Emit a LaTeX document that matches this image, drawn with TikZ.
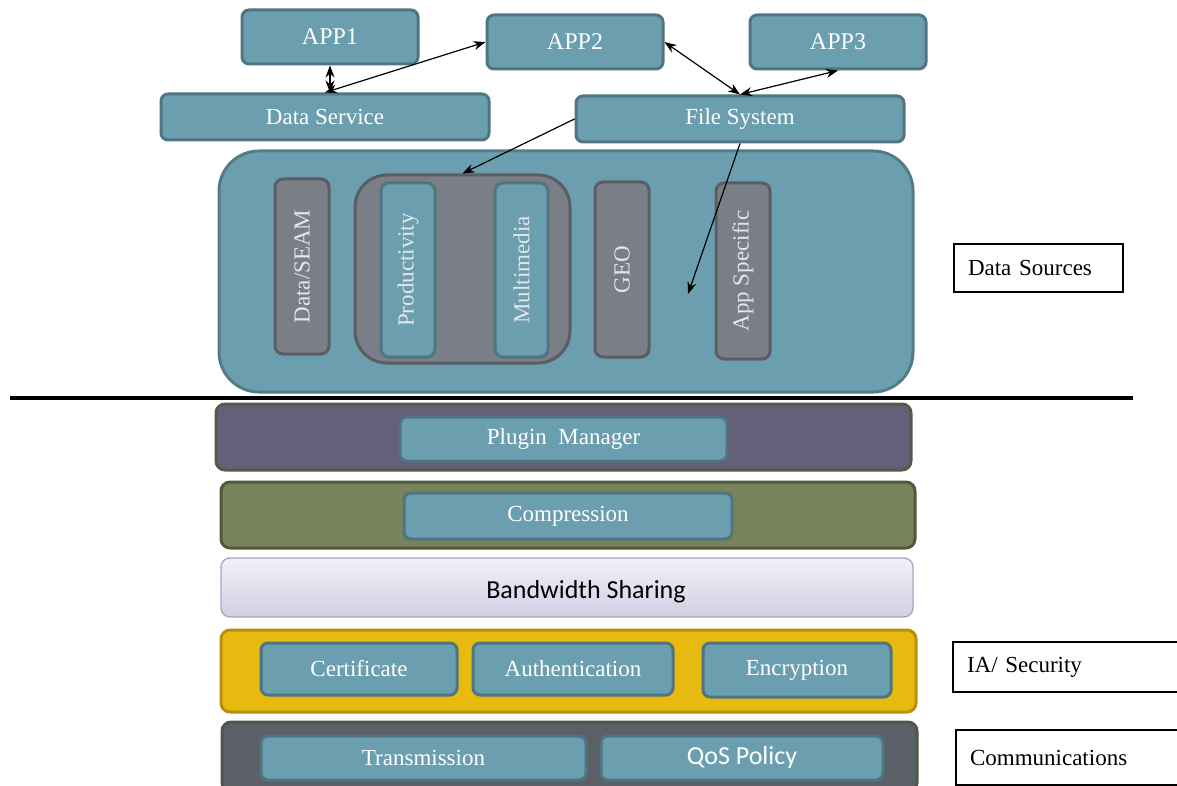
\documentclass[tikz,border=0pt]{standalone}
\usepackage{fontspec}
\setmainfont{Liberation Serif}
\newfontfamily\calfont{Carlito}
\usetikzlibrary{arrows.meta}
\definecolor{tealF}{HTML}{6B9FAF}
\definecolor{tealB}{HTML}{4E7581}
\definecolor{grayF}{HTML}{7A7E87}
\definecolor{grayB}{HTML}{5A5E64}
\definecolor{bigB}{HTML}{557B87}
\definecolor{purpleF}{HTML}{656079}
\definecolor{purpleB}{HTML}{535C47}
\definecolor{oliveF}{HTML}{78835B}
\definecolor{oliveB}{HTML}{4E5A3C}
\definecolor{bwTop}{HTML}{F2F0F9}
\definecolor{bwBot}{HTML}{D4CEE4}
\definecolor{bwB}{HTML}{A9A4BE}
\definecolor{goldF}{HTML}{E8B90F}
\definecolor{goldB}{HTML}{B8900A}
\definecolor{commF}{HTML}{5B6066}
\definecolor{commB}{HTML}{4E5848}
\definecolor{vtext}{HTML}{E4E6EA}
\tikzset{
  tealbox/.style={draw=tealB, fill=tealF, line width=3pt, rounded corners=7pt,
    text=white, font=\fontsize{23}{25}\selectfont, inner sep=0pt},
  vgray/.style={draw=grayB, fill=grayF, line width=3pt, rounded corners=8pt,
    text=vtext, font=\fontsize{23}{25}\selectfont, inner sep=0pt, rotate=90},
  vteal/.style={vgray, draw=tealB, fill=tealF},
  layer/.style={line width=3pt, rounded corners=9pt, inner sep=0pt},
  label/.style={draw=black, line width=1.3pt, fill=white, inner sep=0pt, inner xsep=14pt,
    align=left, font=\fontsize{23}{25}\selectfont},
  link/.style={line width=1.2pt, {Stealth[length=12pt,width=9pt]}-{Stealth[length=12pt,width=9pt]}},
  onelink/.style={line width=1.2pt, -{Stealth[length=12pt,width=9pt]}}
}
\begin{document}
\begin{tikzpicture}[x=1pt,y=-1pt]
\useasboundingbox[fill=white] (0,0) rectangle (1177,786);

% top application boxes
\node[tealbox, minimum width=176, minimum height=54, font=\fontsize{24}{26}\selectfont] (app1) at (330,37) {APP1};
\node[tealbox, minimum width=176, minimum height=54, font=\fontsize{24}{26}\selectfont] (app2) at (575,42) {APP2};
\node[tealbox, minimum width=176, minimum height=54, font=\fontsize{24}{26}\selectfont] (app3) at (838,42) {APP3};
\node[tealbox, minimum width=328, minimum height=46] (ds) at (325,117) {Data Service};
\node[tealbox, minimum width=328, minimum height=46] (fs) at (740,119) {File System};

% data sources block
\node[draw=bigB, fill=tealF, line width=3pt, rounded corners=40pt, minimum width=694, minimum height=241, inner sep=0pt] (src) at (566,271.5) {};
\node[vgray, minimum width=175, minimum height=54] (seam) at (302,266.5) {Data/SEAM};
\node[draw=grayB, fill=grayF, line width=3pt, rounded corners=32pt, minimum width=215, minimum height=188, inner sep=0pt] (grp) at (462.5,269) {};
\node[vteal, minimum width=174, minimum height=54] (prod) at (408,270) {Productivity};
\node[vteal, minimum width=174, minimum height=53] (multi) at (521.5,270) {Multimedia};
\node[vgray, minimum width=175, minimum height=54] (geo) at (622,269.5) {GEO};
\node[vgray, minimum width=176, minimum height=54] (appsp) at (743,271) {App Specific};
\coordinate (srcpt) at (688,294);

% connectors
\draw[link] (app1.south) -- (app1.south |- ds.north);
\draw[link] (ds.north) -- (app2.west);
\draw[link] (app2.east) -- (fs.north);
\draw[link] (fs.north) -- (app3.south);
\draw[onelink] (fs.west) -- (grp.north);
\draw[onelink] (fs.south) -- (srcpt);

% separator
\draw[line width=4pt] (10,398) -- (1133,398);

% layers
\node[layer, draw=purpleB, fill=purpleF, minimum width=695, minimum height=66] (plugl) at (563.5,437) {};
\node[tealbox, minimum width=327, minimum height=44] (plug) at (563.5,439) {Plugin\ \ Manager};
\node[layer, draw=oliveB, fill=oliveF, minimum width=694, minimum height=66] (compl) at (568,515) {};
\node[tealbox, minimum width=328, minimum height=46] (comp) at (568,516) {Compression};
\node[layer, draw=bwB, line width=1.3pt, top color=bwTop, bottom color=bwBot, minimum width=692, minimum height=59, text height=27pt, text depth=6pt, font=\calfont\fontsize{26}{28}\selectfont] (bw) at (567,587.5) {\hspace*{38pt}Bandwidth Sharing};
\node[layer, draw=goldB, fill=goldF, minimum width=695, minimum height=82] (secl) at (568.5,671) {};
\node[tealbox, minimum width=196, minimum height=52] (cert) at (359,669) {Certificate};
\node[tealbox, minimum width=200, minimum height=52] (auth) at (573,669) {Authentication};
\node[tealbox, minimum width=188, minimum height=54] (enc) at (797,670) {Encryption};
\node[layer, draw=commB, fill=commF, minimum width=695, minimum height=70] (comml) at (569.5,757) {};
\node[tealbox, minimum width=325, minimum height=44] (trans) at (423.5,758) {Transmission};
\node[tealbox, minimum width=282, minimum height=44, font=\calfont\fontsize{26}{28}\selectfont] (qos) at (742,758) {QoS Policy};

% side labels
\node[label, minimum width=169, minimum height=48, text width=141] (lds) at (1038.5,268) {Data Sources};
\node[label, minimum width=240, minimum height=50, text width=212] (lsec) at (1073,667) {IA/ Security};
\node[label, minimum width=240, minimum height=55, text width=212] (lcom) at (1076,757.5) {Communications};
\end{tikzpicture}
\end{document}
